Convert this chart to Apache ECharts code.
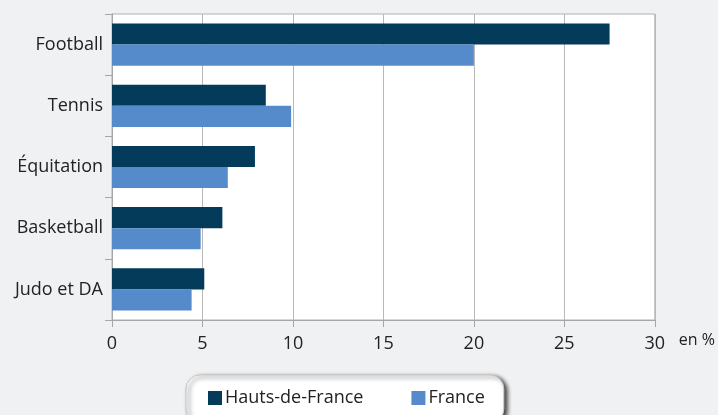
<!DOCTYPE html>
<html>
<head>
<meta charset="utf-8">
<script src="https://cdn.jsdelivr.net/npm/echarts@6/dist/echarts.min.js"></script>
<style>
html,body{margin:0;padding:0;background:#f0f1f3;}
#c{width:718px;height:415px;}
</style>
</head>
<body>
<div id="c"></div>
<script>
const categories = ['Football', 'Tennis', 'Équitation', 'Basketball', 'Judo et DA'];
const seriesNames = ['Hauts-de-France', 'France'];
const hdf = [27.5, 8.5, 7.9, 6.1, 5.1];
const france = [20.0, 9.9, 6.4, 4.9, 4.4];
const xTicks = [0, 5, 10, 15, 20, 25, 30];
const unitLabel = 'en %';

const font = 'Open Sans';
const chart = echarts.init(document.getElementById('c'), null, {renderer: 'canvas'});
chart.setOption({
  backgroundColor: '#f0f1f3',
  animation: false,
  textStyle: {fontFamily: font},
  grid: {left: 112, right: 61, top: 14, bottom: 95, show: true, backgroundColor: '#ffffff', borderColor: '#b0b0b0', borderWidth: 1, containLabel: false},
  legend: {
    data: seriesNames,
    left: 186, top: 375,
    padding: [14, 19, 16, 22],
    itemGap: 48,
    itemWidth: 14, itemHeight: 14,
    icon: 'rect',
    backgroundColor: '#ffffff',
    borderColor: '#c8c8c8', borderWidth: 1,
    borderRadius: 14,
    shadowColor: 'rgba(0,0,0,0.75)', shadowBlur: 4, shadowOffsetX: 3, shadowOffsetY: 2,
    textStyle: {fontFamily: font, fontSize: 18, color: '#222', padding: [0, 0, 0, -2]}
  },
  xAxis: {
    type: 'value', min: xTicks[0], max: xTicks[xTicks.length - 1], interval: 5,
    name: unitLabel, nameLocation: 'end', nameGap: 24,
    nameTextStyle: {fontFamily: font, fontSize: 16, color: '#222', verticalAlign: 'top', padding: [12, 0, 0, 0]},
    axisLine: {show: true, lineStyle: {color: '#a6a6a6', width: 1}},
    axisTick: {show: true, length: 7, lineStyle: {color: '#a6a6a6'}},
    axisLabel: {fontFamily: font, fontSize: 18, color: '#222', margin: 15},
    splitLine: {show: true, lineStyle: {color: '#b8b8b8', width: 1}}
  },
  yAxis: {
    type: 'category', data: categories, inverse: true,
    axisLine: {show: true, lineStyle: {color: '#a6a6a6', width: 1}},
    axisTick: {show: true, length: 7, lineStyle: {color: '#a6a6a6'}},
    axisLabel: {fontFamily: font, fontSize: 18, color: '#222', margin: 9},
    splitLine: {show: false}
  },
  series: [
    {name: seriesNames[0], type: 'bar', data: hdf, barGap: '0%', barCategoryGap: '31%', itemStyle: {color: '#043b5a'}},
    {name: seriesNames[1], type: 'bar', data: france, barGap: '0%', barCategoryGap: '31%', itemStyle: {color: '#558bca'}}
  ]
});
</script>
</body>
</html>
